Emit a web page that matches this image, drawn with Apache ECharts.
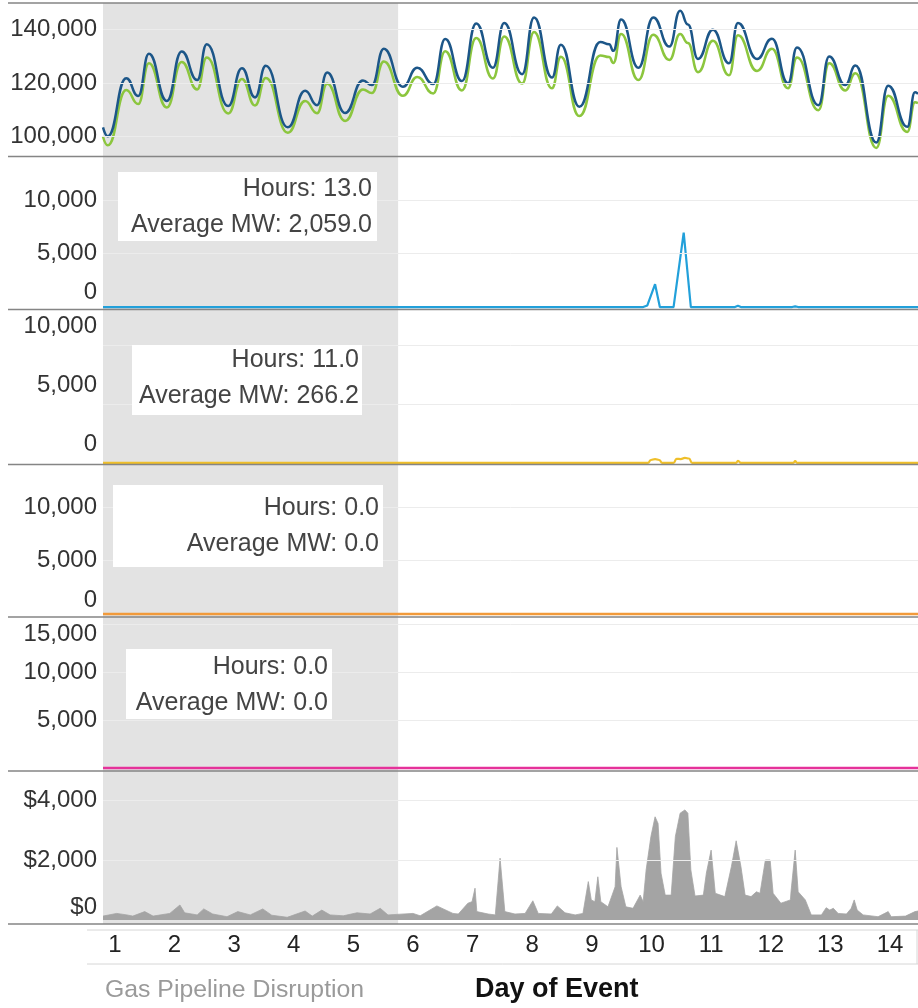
<!DOCTYPE html>
<html><head><meta charset="utf-8">
<script src="https://cdn.jsdelivr.net/npm/echarts@6/dist/echarts.min.js"></script>
<style>html,body{margin:0;padding:0;background:#fff}#chart{width:918px;height:1008px}</style>
</head><body><div id="chart"></div>
<script>
// ---------------- data ----------------
const dayTicks = [1, 2, 3, 4, 5, 6, 7, 8, 9, 10, 11, 12, 13, 14];
const disruptionDays = [0.8, 5.75];

const loadDays = [0.80, 0.88, 1.19, 1.39, 1.57, 1.87, 2.12, 2.38, 2.54, 2.90, 3.13, 3.35, 3.53, 3.90, 4.19, 4.39, 4.56, 4.86, 5.16, 5.31,
  5.51, 5.83, 6.07, 6.34, 6.54, 6.82, 7.06, 7.34, 7.53, 7.83, 8.03, 8.33, 8.48, 8.79, 9.14, 9.29, 9.36, 9.49, 9.78, 10.03,
  10.30, 10.48, 10.61, 10.78, 11.03, 11.30, 11.45, 11.77, 12.02, 12.29, 12.44, 12.80, 12.98, 13.25, 13.42, 13.77, 13.97, 14.29, 14.42, 14.47];
const loadActual = [103500, 100200, 121900, 115200, 131000, 113400, 131900, 121200, 134600, 111500, 125600, 114700, 126500, 103500, 117200, 111800, 124000, 108900, 121000, 119300,
  132900, 118700, 125800, 119700, 136500, 120800, 142300, 125800, 142500, 123400, 144600, 122100, 134400, 111200, 135400, 134600, 132100, 143800, 125800, 144600,
  133700, 147100, 142000, 129100, 140000, 127500, 142500, 129100, 136600, 120000, 133400, 111800, 130000, 119300, 126600, 97800, 119100, 103700, 116600, 116000];
const loadNet = [100000, 96800, 117500, 112200, 127500, 110900, 127900, 117700, 129600, 108700, 121600, 111700, 122000, 101500, 113400, 108800, 119800, 105900, 117700, 116300,
  128100, 115300, 122300, 116200, 132000, 117300, 136900, 121800, 137500, 119900, 139200, 118100, 129900, 107700, 130400, 129800, 127600, 138400, 121200, 138100,
  128700, 138400, 135000, 124100, 135900, 123000, 137900, 124600, 132900, 118100, 129600, 109900, 127500, 117300, 123700, 95800, 115300, 101800, 112900, 112500];

const mwADays = [0.80, 9.86, 9.93, 10.06, 10.14, 10.37, 10.54, 10.66, 11.40, 11.45, 11.50, 12.36, 12.41, 12.46, 14.47];
const mwA = [0, 0, 150, 2130, 0, 0, 6940, 0, 0, 120, 0, 0, 60, 0, 0];

const mwBDays = [0.80, 9.94, 9.99, 10.06, 10.13, 10.18, 10.37, 10.42, 10.49, 10.56, 10.63, 10.68, 11.42, 11.45, 11.50, 12.38, 12.41, 12.44, 14.47];
const mwB = [0, 0, 250, 320, 250, 0, 0, 350, 330, 430, 380, 0, 0, 180, 0, 0, 150, 0, 0];

const mwCDays = [0.80, 14.47];
const mwC = [0, 0];
const mwDDays = [0.80, 14.47];
const mwD = [0, 0];

const priceDays = [0.80, 1.03, 1.20, 1.30, 1.50, 1.64, 1.92, 2.09, 2.17, 2.38, 2.49, 2.64, 2.88, 3.06, 3.27, 3.48, 3.63, 3.89, 4.19, 4.31,
  4.47, 4.61, 4.83, 5.06, 5.28, 5.45, 5.58, 6.00, 6.12, 6.40, 6.67, 6.76, 6.92, 6.99, 7.04, 7.07, 7.26, 7.38, 7.46, 7.54,
  7.71, 7.88, 8.01, 8.10, 8.32, 8.42, 8.55, 8.72, 8.85, 8.94, 8.99, 9.05, 9.10, 9.15, 9.27, 9.39, 9.42, 9.49, 9.57, 9.69,
  9.81, 9.86, 9.91, 9.99, 10.06, 10.11, 10.16, 10.23, 10.33, 10.40, 10.48, 10.56, 10.61, 10.66, 10.73, 10.87, 10.92, 11.00, 11.07, 11.23,
  11.34, 11.42, 11.50, 11.57, 11.67, 11.76, 11.82, 11.91, 11.99, 12.04, 12.17, 12.33, 12.34, 12.41, 12.46, 12.58, 12.68, 12.85, 12.93, 12.99,
  13.05, 13.13, 13.27, 13.35, 13.40, 13.45, 13.55, 13.80, 13.97, 14.02, 14.26, 14.42, 14.47];
const price = [130, 220, 170, 130, 280, 130, 220, 500, 240, 170, 370, 200, 110, 280, 170, 370, 160, 90, 300, 130,
  330, 170, 140, 240, 200, 390, 170, 220, 140, 470, 220, 200, 560, 610, 1060, 280, 200, 170, 2060, 280,
  200, 220, 640, 220, 200, 470, 240, 170, 220, 1280, 670, 610, 1440, 610, 440, 1110, 2420, 1110, 440, 390,
  830, 610, 1670, 2780, 3440, 3220, 1560, 830, 830, 2780, 3560, 3670, 3560, 1670, 800, 830, 1560, 2330, 890, 780,
  1780, 2640, 1780, 830, 780, 940, 890, 2000, 2000, 890, 560, 670, 940, 2330, 940, 670, 170, 170, 410, 330,
  390, 220, 200, 390, 670, 330, 170, 110, 280, 110, 130, 280, 300];

const loadTicks = [100000, 120000, 140000];
const mwTicks = [0, 5000, 10000];
const mwTicksWide = [5000, 10000, 15000];
const priceTicks = [0, 2000, 4000];

const annotationLines = [
  ['Hours: 13.0', 'Average MW: 2,059.0'],
  ['Hours: 11.0', 'Average MW: 266.2'],
  ['Hours: 0.0', 'Average MW: 0.0'],
  ['Hours: 0.0', 'Average MW: 0.0']
];
const footerLabels = ['Gas Pipeline Disruption', 'Day of Event'];

// ---------------- layout / style ----------------
const FONT = '"Liberation Sans", Arial, sans-serif';
const X_MIN = 0.8, X_MAX = 14.47;
const GRID_LEFT = 103;
const fmtNum = v => v.toLocaleString('en-US');
const fmtPrice = v => '$' + v.toLocaleString('en-US');

const panels = [
  { top: 3, bottom: 156.5, min: 92600, max: 150000, labels: loadTicks, lines: loadTicks, fmt: fmtNum, shift: {} },
  { top: 156.5, bottom: 309.5, min: -230, max: 14050, labels: mwTicks, lines: [5000, 10000], fmt: fmtNum, shift: { 0: -14 } },
  { top: 309.5, bottom: 464.5, min: -130, max: 13000, labels: mwTicks, lines: [5000, 10000], fmt: fmtNum, shift: { 0: -18, 5000: -18, 10000: -18 } },
  { top: 464.5, bottom: 617, min: -280, max: 13970, labels: mwTicks, lines: [5000, 10000], fmt: fmtNum, shift: { 0: -13 } },
  { top: 617, bottom: 771, min: -312, max: 15730, labels: mwTicksWide, lines: mwTicksWide, fmt: fmtNum, shift: { 15000: 9 } },
  { top: 771, bottom: 924, min: -133, max: 4967, labels: priceTicks, lines: [2000, 4000], fmt: fmtPrice, shift: { 0: -12 } }
];

const grids = [], xAxes = [], yAxes = [];
panels.forEach((p, i) => {
  grids.push({ left: GRID_LEFT, right: 0, top: p.top, height: p.bottom - p.top });
  xAxes.push({
    type: 'value', gridIndex: i, min: X_MIN, max: X_MAX, show: i === 5,
    axisLine: { show: false }, axisTick: { show: false }, splitLine: { show: false },
    axisLabel: { customValues: dayTicks, fontSize: 24, fontFamily: FONT, color: '#222', margin: 9 }
  });
  const rich = {};
  Object.values(p.shift).forEach(s => {
    const name = (s < 0 ? 'u' : 'd') + Math.abs(s);
    rich[name] = { fontSize: 24, fontFamily: FONT, color: '#333', lineHeight: 2 * Math.abs(s) + 26, verticalAlign: s < 0 ? 'top' : 'bottom' };
  });
  yAxes.push({
    type: 'value', gridIndex: i, min: p.min, max: p.max,
    axisLine: { show: false }, axisTick: { show: false }, splitLine: { show: false },
    axisLabel: {
      customValues: p.labels, fontSize: 24, fontFamily: FONT, color: '#333', margin: 6, rich,
      formatter: v => {
        const s = p.shift[v];
        const t = p.fmt(v);
        if (!s) return t;
        return '{' + (s < 0 ? 'u' : 'd') + Math.abs(s) + '|' + t + '}';
      }
    }
  });
});

const pairs = (xs, ys) => xs.map((x, i) => [x, ys[i]]);
const shade = {
  silent: true, itemStyle: { color: '#e3e3e3' },
  data: [[{ xAxis: disruptionDays[0] }, { xAxis: disruptionDays[1] }]]
};
const gridLines = vals => ({
  silent: true, symbol: 'none', label: { show: false }, animation: false,
  lineStyle: { color: '#ececec', width: 1, type: 'solid' },
  data: vals.map(v => ({ yAxis: v }))
});
const lineSeries = (name, i, xs, ys, color, width, smooth, extra) => Object.assign({
  name, type: 'line', xAxisIndex: i, yAxisIndex: i, data: pairs(xs, ys),
  symbol: 'none', smooth, smoothMonotone: 'x', lineStyle: { color, width }, itemStyle: { color }, animation: false
}, extra || {});

const series = [
  lineSeries('Net Load', 0, loadDays, loadNet, '#8cc63e', 2.5, 0.5, { markArea: shade, markLine: gridLines(panels[0].lines) }),
  lineSeries('Load', 0, loadDays, loadActual, '#1c5688', 2.5, 0.5),
  lineSeries('Resource A MW', 1, mwADays, mwA, '#22a0da', 2.2, false, { markArea: shade, markLine: gridLines(panels[1].lines) }),
  lineSeries('Resource B MW', 2, mwBDays, mwB, '#efbf2a', 2.2, 0.5, { markArea: shade, markLine: gridLines(panels[2].lines) }),
  lineSeries('Resource C MW', 3, mwCDays, mwC, '#f29a3a', 2.5, false, { markArea: shade, markLine: gridLines(panels[3].lines) }),
  lineSeries('Resource D MW', 4, mwDDays, mwD, '#e5329a', 2.5, false, { markArea: shade, markLine: gridLines(panels[4].lines) }),
  lineSeries('Price', 5, priceDays, price, '#a4a4a4', 0.8, false, {
    areaStyle: { color: '#a4a4a4', opacity: 1 }, markArea: shade, markLine: gridLines(panels[5].lines)
  })
];

// ---------------- non-data graphics ----------------
const graphic = [];
[3, 156.5, 309.5, 464.5, 617, 771, 924].forEach(y => {
  graphic.push({ type: 'line', z: 50, shape: { x1: 8, y1: y, x2: 918, y2: y }, style: { stroke: '#858585', lineWidth: 1.5 } });
});
graphic.push({ type: 'line', z: 50, shape: { x1: 87, y1: 930, x2: 918, y2: 930 }, style: { stroke: '#d6d6d6', lineWidth: 1 } });
graphic.push({ type: 'line', z: 50, shape: { x1: 87, y1: 964, x2: 918, y2: 964 }, style: { stroke: '#d6d6d6', lineWidth: 1 } });
graphic.push({ type: 'line', z: 50, shape: { x1: 917, y1: 930, x2: 917, y2: 964 }, style: { stroke: '#d6d6d6', lineWidth: 1 } });

const boxes = [
  { x: 118, y: 172, w: 259, h: 69, right: 372, firstLine: 189 },
  { x: 132, y: 345, w: 230, h: 70, right: 359, firstLine: 360 },
  { x: 113, y: 485, w: 270, h: 82, right: 379, firstLine: 508 },
  { x: 126, y: 649, w: 206, h: 70, right: 328, firstLine: 667 }
];
boxes.forEach((b, i) => {
  graphic.push({ type: 'rect', z: 60, shape: { x: b.x, y: b.y, width: b.w, height: b.h }, style: { fill: '#ffffff' } });
  graphic.push({
    type: 'text', z: 61, x: b.right, y: b.firstLine - 18,
    style: { text: annotationLines[i].join('\n'), font: '25px ' + FONT, fill: '#444', align: 'right', verticalAlign: 'top', lineHeight: 36 }
  });
});
graphic.push({ type: 'text', z: 61, x: 105, y: 990, style: { text: footerLabels[0], font: '24.8px ' + FONT, fill: '#9a9a9a', align: 'left', verticalAlign: 'middle' } });
graphic.push({ type: 'text', z: 61, x: 475, y: 990, style: { text: footerLabels[1], font: 'bold 27px ' + FONT, fill: '#111', align: 'left', verticalAlign: 'middle' } });

const chart = echarts.init(document.getElementById('chart'), null, { renderer: 'canvas' });
chart.setOption({
  animation: false,
  backgroundColor: '#ffffff',
  grid: grids, xAxis: xAxes, yAxis: yAxes, series, graphic
});
</script></body></html>
